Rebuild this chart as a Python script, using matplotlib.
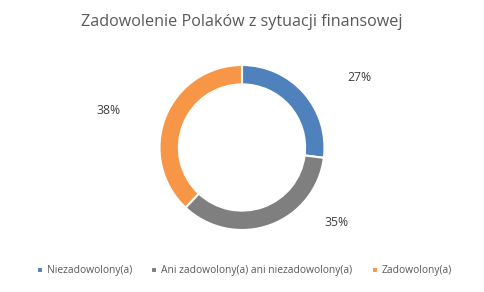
import matplotlib
matplotlib.use("Agg")
import matplotlib.pyplot as plt
import numpy as np

# Dane
kategorie = ['Niezadowolony(a)', 'Ani zadowolony(a) ani niezadowolony(a)', 'Zadowolony(a)']
wartosci = [27, 35, 38]
kolory = ['#4F81BD', '#7F7F7F', '#F79646']
etykiety = ['27%', '35%', '38%']
pozycje_etykiet = [(1.42, 0.85), (1.15, -0.91), (-1.62, 0.45)]

plt.rcParams['font.family'] = ['Open Sans', 'DejaVu Sans']

fig = plt.figure(figsize=(4.84, 2.92), dpi=100)
ax = fig.add_axes([(242 - 82.5) / 484, (292 - 147.5 - 82.5) / 292, 165 / 484, 165 / 292])

wedges, _ = ax.pie(wartosci, colors=kolory, startangle=90, counterclock=False,
                   radius=1.0, wedgeprops=dict(width=0.235, edgecolor='white', linewidth=1.5))
ax.set_xlim(-1, 1)
ax.set_ylim(-1, 1)
ax.set_aspect('equal')
ax.axis('off')

for txt, (x, y) in zip(etykiety, pozycje_etykiet):
    ax.text(x, y, txt, ha='center', va='center', fontsize=8.8, color='#404040', clip_on=False)

fig.text(0.5, 1 - 22 / 292, 'Zadowolenie Polaków z sytuacji finansowej',
         ha='center', va='center', fontsize=11.6, color='#595959')

fig.legend(wedges, kategorie, loc='center', bbox_to_anchor=(0.505, 1 - 271 / 292), ncol=3,
           frameon=False, fontsize=7.4, handlelength=0.55, handleheight=0.55,
           handletextpad=0.4, columnspacing=1.9, labelcolor='#595959')

fig.savefig('out.png', dpi=100)
